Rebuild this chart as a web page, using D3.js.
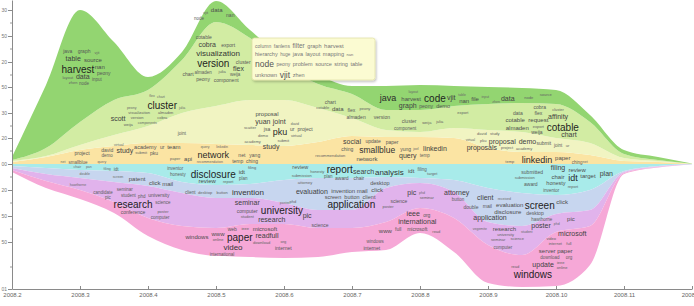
<!DOCTYPE html>
<html>
<head>
<meta charset="utf-8">
<script src="https://cdnjs.cloudflare.com/ajax/libs/d3/7.8.5/d3.min.js"></script>
<style>
    body { margin: 0; background: #fff; }
    svg { display: block; font-family: "Liberation Sans", Arial, sans-serif; }
</style>
</head>
<body>
<div class="stream"></div>
<script>
//sample points, every half month of 2008
const months = d3.range(2, 12.01, 0.5);

//topic thickness above the centre line (inner to outer)
const social        = [2, 7, 14, 18, 21, 21, 20, 19, 18, 22, 28, 27, 27, 26, 16, 12, 12, 9, 3, 2, 0.1];
const proposals     = [1, 1, 5, 11, 17, 30, 38, 45, 46, 34, 18, 7, 5, 10, 18, 20, 14, 12, 3, 1, 0.1];
const visualization = [1, 8, 23, 35, 36, 53, 84, 62, 34, 24, 24, 20, 22, 22, 26, 29, 34, 21, 4, 1, 0.1];
const harvest       = [3, 63, 112, 58, 13, 8, 21, 8, 8, 9, 8, 24, 25, 20, 17, 15, 14, 7, 4, 3, 0.2];
//topic thickness below the centre line (inner to outer)
const disclosure    = [2, 4, 6, 7, 9, 18, 21, 20, 16, 14, 14, 13, 14, 16, 24, 29, 31, 26, 7, 2, 0.2];
const invention     = [2, 6, 8, 11, 13, 11, 13, 14, 23, 32, 32, 11, 5, 12, 34, 33, 19, 20, 1, 0.5, 0.1];
const research      = [2, 7, 12, 20, 32, 33, 30, 26, 21, 18, 18, 34, 25, 26, 23, 29, 18, 16, 1, 0.5, 0.1];
const web           = [2, 7, 9, 11, 18, 24, 28, 33, 34, 29, 24, 28, 25, 34, 38, 32, 54, 39, 1, 0.5, 0.1];

const upperTopics = ["social", "proposals", "visualization", "harvest"];
const lowerTopics = ["disclosure", "invention", "research", "web"];

//axis ticks
const monthTicks = d3.range(2, 13);
const yTicks = [154, 128, 102, 77, 51, 26, 0, -26, -52, -78, -125];
const yTickLabels = ["30", "50", "20", "50", "30", "20", "00", "20", "50", "50", "01"];
const yMinorTicks = [141, 115, 89, 64, 38, 13, -13, -39, -65, -103];

//keywords: [word, month, value, font size]
const harvestWords = [
    ["java", 2.82, 113, 5], ["graph", 3.06, 113, 5], ["vjit", 3.25, 111, 4], ["table", 2.90, 105, 7],
    ["source", 3.19, 104, 6], ["harvest", 2.97, 95, 10], ["nan", 3.29, 97, 6], ["peony", 3.35, 91, 5],
    ["layout", 2.82, 86, 4], ["data", 3.04, 87, 7], ["input", 3.25, 85, 4.5], ["zhen", 2.90, 81, 4],
    ["node", 3.06, 81, 4.5],
    ["vjit", 4.85, 151, 4], ["data", 5.01, 154, 6], ["nan", 5.21, 149, 5], ["node", 4.75, 146, 4.5],
    ["layout", 7.90, 72, 3.5], ["java", 7.53, 66, 9], ["harvest", 7.87, 65, 6], ["code", 8.22, 66, 10],
    ["vjit", 8.46, 66, 7], ["table", 8.62, 69, 3.5], ["nan", 8.65, 63, 6], ["graph", 7.82, 58, 7],
    ["peony", 8.09, 58, 5], ["demo", 8.34, 58, 5.5], ["file", 8.81, 65, 6], ["input", 8.96, 67, 3.5],
    ["zhen", 9.12, 62, 3.5], ["data", 9.29, 65, 7], ["node", 9.60, 66, 4], ["source", 9.85, 69, 4]
];
const visualizationWords = [
    ["cotable", 4.82, 127, 5], ["cobra", 4.87, 119, 7], ["export", 5.18, 119, 5], ["visualization", 5.03, 111, 8],
    ["version", 4.96, 101, 10], ["cluster", 5.40, 102, 5], ["flex", 5.33, 95, 7], ["chart", 4.59, 90, 5],
    ["almaden", 4.81, 92, 4.5], ["julia", 5.09, 92, 4], ["weija", 5.28, 90, 4.5], ["peony", 4.81, 85, 5],
    ["component", 5.15, 84, 5],
    ["flex", 4.06, 68, 3.5], ["chart", 4.19, 67, 3.5], ["cluster", 4.21, 59, 10], ["julia", 4.50, 56, 3.5],
    ["peony", 3.76, 56, 3.5], ["visualization", 3.87, 51, 4], ["almaden", 4.26, 51, 4], ["scott", 3.56, 45, 7],
    ["version", 3.84, 46, 4], ["cobra", 4.21, 46, 4], ["components", 3.99, 41, 3.5], ["weija", 3.71, 39, 4],
    ["chart", 6.68, 62, 5], ["cotable", 6.57, 56, 4], ["data", 6.79, 55, 6], ["flex", 6.99, 54, 5],
    ["peony", 7.19, 55, 4], ["almaden", 7.06, 47, 5], ["version", 7.44, 47, 5], ["cluster", 7.84, 43, 5],
    ["weija", 8.10, 41, 4], ["julia", 8.29, 42, 4], ["component", 7.78, 36, 4.5], ["export", 8.63, 51, 4],
    ["cobra", 9.76, 57, 5], ["cluster", 10.03, 54, 4], ["data", 9.44, 51, 5], ["flex", 9.74, 51, 5],
    ["cotable", 9.40, 44, 6], ["request", 9.74, 44, 6], ["affinity", 10.03, 47, 7], ["almaden", 9.43, 36, 6],
    ["export", 9.74, 37, 4], ["weija", 9.72, 32, 5], ["cotable", 10.10, 37, 10], ["chart", 10.19, 29, 7]
];
const proposalWords = [
    ["joint", 4.50, 31, 4.5],
    ["proposal", 5.75, 50, 6], ["yuan", 5.69, 42, 7], ["joint", 5.93, 42, 7], ["david", 6.16, 40, 3.5],
    ["scatter", 5.50, 36, 4], ["jsa", 5.75, 35, 5], ["pku", 5.94, 32, 9], ["ur", 6.12, 35, 5],
    ["project", 6.31, 35, 5], ["demo", 5.69, 28, 4], ["virtual", 6.18, 28, 4], ["academy", 5.54, 22, 4],
    ["submit", 5.99, 23, 4], ["study", 5.81, 17, 7],
    ["david", 8.91, 30, 4], ["study", 9.10, 30, 4], ["virtual", 8.74, 24, 3.5], ["pku", 8.93, 23, 4],
    ["proposal", 9.21, 22, 7], ["demo", 9.58, 22, 7], ["submit", 9.82, 21, 5], ["joint", 10.03, 19, 4.5],
    ["ur", 10.17, 18, 4], ["proposals", 8.91, 16, 7], ["project", 9.28, 16, 4], ["academy", 9.53, 15, 4]
];
const socialWords = [
    ["project", 3.03, 11, 5], ["david", 3.40, 14, 5], ["demo", 3.40, 9, 4.5], ["virtual", 3.57, 19, 3.5],
    ["study", 3.66, 13, 7], ["academy", 3.96, 17, 5.5], ["ur", 4.21, 17, 5], ["team", 4.38, 17, 6],
    ["submit", 3.90, 11, 4], ["pku", 4.09, 11, 5], ["query", 4.84, 17, 3.5], ["linkedin", 5.09, 17, 3.5],
    ["network", 4.96, 9, 9], ["api", 4.59, 5, 6], ["paper", 4.40, 5, 4], ["net", 5.38, 9, 5],
    ["yang", 5.57, 9, 5], ["temp", 5.32, 3, 5], ["ching", 5.53, 3, 5], ["recommendation", 4.91, 2, 3.5],
    ["net", 2.75, 2, 3.5], ["smallblue", 2.97, 2, 4.5], ["query", 3.32, 2, 3.5],
    ["social", 7.00, 22, 7], ["update", 7.31, 23, 5], ["paper", 7.59, 22, 5], ["ching", 6.93, 15, 5],
    ["smallblue", 7.37, 14, 8.5], ["yung", 7.79, 15, 5], ["joel", 7.94, 15, 3.5], ["linkedin", 8.22, 15, 7],
    ["recommendation", 6.68, 8, 4], ["network", 7.22, 5, 6], ["query", 7.82, 8, 7], ["temp", 8.07, 9, 4.5],
    ["temp", 9.32, 2, 4], ["linkedin", 9.72, 4, 9], ["paper", 10.10, 6, 6], ["ching", 10.31, 2, 4.5],
    ["net", 10.43, 2, 3.5]
];
const disclosureWords = [
    ["chair", 2.96, -3, 3.5], ["pan", 3.13, -3, 3.5], ["filing", 3.40, -5, 3.5], ["idt", 3.53, -5, 4.5],
    ["inventor", 4.40, -4, 4.5], ["honesty", 4.44, -10, 4.5], ["disclosure", 4.96, -10, 10], ["review", 4.87, -17, 6],
    ["report", 5.18, -18, 4], ["idt", 5.38, -8, 6], ["filing", 5.53, -4, 4], ["plan", 5.40, -14, 4.5],
    ["review", 6.24, -3, 5.5], ["honesty", 6.49, -8, 4], ["report", 6.82, -5, 10], ["submission", 6.26, -12, 4],
    ["plan", 6.65, -12, 4.5], ["award", 6.85, -14, 5], ["chair", 7.10, -14, 5], ["search", 7.17, -8, 7],
    ["analysis", 7.55, -8, 8], ["idt", 7.87, -7, 6], ["filing", 8.03, -5, 4.5], ["target", 8.18, -10, 4],
    ["submitted", 9.65, -8, 5], ["filing", 10.03, -4, 7], ["review", 10.31, -6, 6], ["submission", 9.54, -14, 4],
    ["chair", 10.03, -13, 6], ["idt", 10.25, -14, 9], ["target", 10.47, -12, 6], ["plan", 10.74, -10, 7],
    ["award", 9.63, -20, 5], ["honesty", 10.00, -19, 5.5], ["inventor", 9.93, -26, 4.5], ["report", 10.25, -23, 4]
];
const inventionWords = [
    ["double", 3.07, -10, 3.5], ["screen", 3.56, -13, 3.5], ["patent", 3.84, -15, 6], ["click", 4.10, -19, 6],
    ["mail", 4.29, -20, 6], ["client", 4.62, -28, 4.5], ["desktop", 4.84, -29, 4], ["button", 5.09, -29, 4],
    ["invention", 5.47, -28, 8],
    ["attorney", 6.31, -19, 4], ["evaluation", 6.41, -28, 7], ["invention", 6.87, -27, 6], ["mail", 7.15, -27, 6],
    ["click", 7.37, -26, 6], ["desktop", 7.41, -19, 5.5], ["screen", 6.72, -33, 5.5], ["button", 7.00, -33, 5.5],
    ["client", 7.25, -33, 5.5], ["application", 6.99, -40, 10],
    ["attorney", 8.54, -29, 7], ["client", 8.96, -34, 7], ["received", 9.24, -35, 3.5], ["button", 8.56, -35, 4.5],
    ["double", 8.75, -43, 5], ["mail", 8.99, -42, 5], ["evaluation", 9.32, -41, 6], ["screen", 9.76, -41, 10],
    ["click", 10.09, -38, 6], ["disclosure", 9.29, -48, 6], ["desktop", 9.69, -49, 5], ["application", 9.03, -54, 7]
];
const researchWords = [
    ["hawthorne", 2.97, -21, 3.5], ["seminar", 3.66, -25, 4.5], ["candidate", 3.34, -28, 4.5], ["student", 3.71, -31, 4.5],
    ["phd", 3.91, -32, 4.5], ["university", 4.16, -31, 5], ["pic", 3.41, -33, 4.5], ["research", 3.78, -40, 10],
    ["science", 4.22, -38, 4.5], ["conference", 3.78, -48, 5], ["poster", 4.22, -48, 4], ["computer", 4.18, -53, 4.5],
    ["seminar", 5.46, -39, 7], ["poster", 6.01, -39, 3.5], ["phd", 6.13, -38, 4], ["computer", 5.46, -47, 5],
    ["university", 5.97, -46, 10], ["student", 5.46, -53, 4], ["research", 5.82, -56, 7], ["pic", 6.34, -52, 7],
    ["science", 6.53, -61, 5],
    ["pic", 7.88, -29, 7], ["phd", 8.03, -29, 3.5], ["seminar", 8.10, -34, 4], ["science", 7.69, -37, 5],
    ["poster", 7.53, -43, 4],
    ["hawthorne", 9.79, -55, 4.5], ["pic", 10.22, -55, 6], ["poster", 9.78, -62, 7], ["phd", 10.01, -60, 3.5],
    ["vegemite", 8.88, -65, 3.5], ["research", 9.24, -65, 6], ["student", 9.57, -68, 3.5], ["university", 9.26, -71, 4],
    ["seminar", 9.15, -76, 4], ["science", 9.43, -75, 4], ["computer", 9.22, -83, 4.5]
];
const webWords = [
    ["windows", 4.72, -73, 6], ["web", 5.24, -65, 5], ["www", 5.03, -70, 6], ["online", 5.03, -76, 4],
    ["paper", 5.35, -73, 10], ["video", 5.25, -83, 8], ["international", 5.09, -90, 4.5], ["ieee", 5.43, -65, 4],
    ["microsoft", 5.72, -65, 6], ["readfull", 5.75, -72, 7], ["download", 5.67, -79, 4], ["org", 5.99, -78, 4],
    ["internet", 5.99, -84, 5],
    ["windows", 7.34, -77, 4.5], ["internet", 7.29, -84, 5], ["ieee", 7.90, -50, 7], ["org", 8.10, -51, 5],
    ["international", 7.96, -58, 7], ["www", 7.49, -67, 6], ["full", 7.68, -65, 5], ["microsoft", 7.96, -65, 5],
    ["read", 8.24, -68, 4],
    ["microsoft", 10.24, -70, 7], ["video", 9.93, -75, 4], ["internet", 9.99, -80, 4], ["full", 10.19, -80, 4],
    ["server", 9.87, -87, 6], ["paper", 10.13, -87, 6], ["download", 9.91, -93, 4.5], ["org", 10.19, -93, 4.5],
    ["update", 9.81, -101, 7], ["ieee", 10.07, -99, 4], ["online", 10.09, -104, 4], ["read", 9.40, -103, 4],
    ["windows", 9.66, -110, 10]
];

//hover box with the full keyword list of the top topic
const tipAt = [5.53, 126];
const tipRows = [
    [["column", 5], ["fanlens", 5], ["filter", 6.5], ["graph", 5.5], ["harvest", 6]],
    [["hierarchy", 5.5], ["huge", 4.5], ["java", 5.5], ["layout", 5.5], ["mapping", 5.5], ["nan", 4]],
    [["node", 8.5], ["peony", 5], ["problem", 5.5], ["source", 5.5], ["string", 5.5], ["table", 5.5]],
    [["unknown", 5.5], ["vjit", 8.5], ["zhen", 5.5]]
];

const colors = {
    social: "#fbe4a3",
    proposals: "#f1f4c2",
    visualization: "#d2eca3",
    harvest: "#93d571",
    disclosure: "#a8ebea",
    invention: "#c7d6ef",
    research: "#e1b3ec",
    web: "#f6a8d7"
};

const width = 694, height = 306;

const x = d3.scaleLinear().domain([2, 12]).range([12, 692]);
const y = d3.scaleLinear().domain([-125, 164]).range([289, 0]);

//rows for the stack, lower topics go negative
const table = months.map((m, i) => ({
    month: m,
    social: social[i], proposals: proposals[i], visualization: visualization[i], harvest: harvest[i],
    disclosure: -disclosure[i], invention: -invention[i], research: -research[i], web: -web[i]
}));

const series = d3.stack()
    .keys(upperTopics.concat(lowerTopics))
    .offset(d3.stackOffsetDiverging)
    .order(d3.stackOrderNone)(table);

const svg = d3.select(".stream")
    .append("svg")
    .attr("width", width)
    .attr("height", height)
    .attr("viewBox", `0 0 ${width} ${height}`);

const defs = svg.append("defs");
defs.append("filter").attr("id", "shadow")
    .attr("x", "-10%").attr("y", "-10%").attr("width", "130%").attr("height", "140%")
    .append("feDropShadow")
    .attr("dx", 1).attr("dy", 1.5).attr("stdDeviation", 1.2)
    .attr("flood-color", "#000").attr("flood-opacity", 0.25);

const area = d3.area()
    .x(d => x(d.data.month))
    .y0(d => y(d[0]))
    .y1(d => y(d[1]))
    .curve(d3.curveMonotoneX);

svg.append("g").selectAll("path")
    .data(series)
    .enter()
    .append("path")
    .attr("d", area)
    .attr("fill", d => colors[d.key]);

//axes
const yAxis = d3.axisLeft(y)
    .tickValues(yTicks)
    .tickFormat((d, i) => yTickLabels[i])
    .tickSize(4)
    .tickSizeOuter(0)
    .tickPadding(1);

const yG = svg.append("g")
    .attr("transform", `translate(${x(2)},0)`)
    .call(yAxis);
yG.select(".domain").attr("stroke", "#8a8a8a");
yG.selectAll(".tick line").attr("stroke", "#8a8a8a");
yG.selectAll(".tick text").attr("font-size", 5).attr("fill", "#777").attr("font-family", "Liberation Sans, Arial, sans-serif");

yG.selectAll(".minor")
    .data(yMinorTicks)
    .enter()
    .append("line")
    .attr("class", "minor")
    .attr("x1", -2).attr("x2", 0)
    .attr("y1", d => y(d)).attr("y2", d => y(d))
    .attr("stroke", "#9a9a9a");

const xAxis = d3.axisBottom(x)
    .tickValues(monthTicks)
    .tickFormat(d => "2008." + d)
    .tickSizeInner(-3)
    .tickSizeOuter(0)
    .tickPadding(4);

const xG = svg.append("g")
    .attr("transform", `translate(0,${y(-125)})`)
    .call(xAxis);
xG.select(".domain").attr("stroke", "#8a8a8a");
xG.selectAll(".tick line").attr("stroke", "#8a8a8a");
xG.selectAll(".tick text").attr("font-size", 6).attr("fill", "#666").attr("font-family", "Liberation Sans, Arial, sans-serif");

//keyword clouds
const ink = d3.scaleLinear().domain([3.5, 10]).range(["#6a6a6a", "#1e1e1e"]).clamp(true);
const allWords = [].concat(harvestWords, visualizationWords, proposalWords, socialWords,
    disclosureWords, inventionWords, researchWords, webWords);

svg.append("g").selectAll("text")
    .data(allWords)
    .enter()
    .append("text")
    .attr("x", d => x(d[1]))
    .attr("y", d => y(d[2]))
    .attr("dy", "0.35em")
    .attr("text-anchor", "middle")
    .attr("font-size", d => d[3])
    .attr("fill", d => ink(d[3]))
    .text(d => d[0]);

//hover box
const tip = svg.append("g")
    .attr("transform", `translate(${x(tipAt[0])},${y(tipAt[1])})`);

tip.append("rect")
    .attr("width", 123)
    .attr("height", 42)
    .attr("rx", 2.5)
    .attr("fill", "#fbfbd2")
    .attr("stroke", "#e2e2a8")
    .attr("stroke-width", 0.8)
    .attr("filter", "url(#shadow)");

const rowY = [8, 16.5, 26, 37.5];
tipRows.forEach((row, r) => {
    let cx = 3;
    row.forEach(w => {
        const t = tip.append("text")
            .attr("x", cx)
            .attr("y", rowY[r])
            .attr("dy", "0.35em")
            .attr("font-size", w[1])
            .attr("fill", w[1] > 6.5 ? "#555" : "#777")
            .text(w[0]);
        cx += t.node().getComputedTextLength() + 2.6;
    });
});
</script>
</body>
</html>
